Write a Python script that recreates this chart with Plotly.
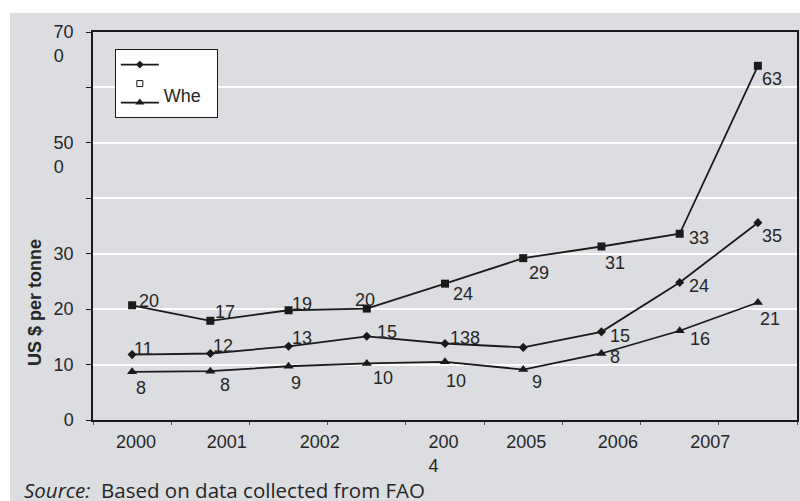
import plotly.graph_objects as go

# Nine yearly observations (index positions on the x axis)
periods = list(range(9))

# Axis tick labels
x_tick_pos = [0.05, 1.21, 2.4, 3.98, 5.04, 6.21, 7.39]
x_tick_text = ["2000", "2001", "2002", "200<br>4\u00a0\u00a0\u00a0\u00a0", "2005", "2006", "2007"]
y_tick_vals = [0, 10, 20, 30, 40, 50, 60, 70]
y_tick_text = ["0", "10", "20", "30", "", "\u00a0<br>50<br>0\u00a0\u00a0", "", "\u00a0<br>70<br>0\u00a0\u00a0"]

# Series values (US $ per tonne) and their printed labels
square_vals = [20.7, 17.9, 19.8, 20.1, 24.6, 29.2, 31.3, 33.6, 63.9]
square_text = ["20", "17", "19", "20", "24", "29", "31", "33", "63"]

diamond_vals = [11.8, 12.0, 13.3, 15.1, 13.8, 13.1, 15.9, 24.8, 35.6]
diamond_text = ["11", "12", "13", "15", "138", "", "15", "24", "35"]

triangle_vals = [8.7, 8.8, 9.7, 10.2, 10.5, 9.1, 12.0, 16.1, 21.2]
triangle_text = ["8", "8", "9", "10", "10", "9", "8", "16", "21"]

legend_names = [" ", " ", "Whe"]

INK = "#1a1a1a"
TXT = "#262626"
BG = "#dcdde0"
FONT = "Arial, Liberation Sans, sans-serif"

# Label offsets from each marker, in pixels (dx right, dy down)
square_off = [(17, -4), (15, -9), (13, -6), (-2, -9), (18, 10),
              (16, 15), (14, 16), (19, 4), (14, 13)]
diamond_off = [(11, -6), (13, -7), (13, -8), (20, -4), (20, -6),
               (0, 0), (19, 4), (19, 3), (14, 13)]
triangle_off = [(9, 16), (15, 14), (7, 17), (16, 15), (11, 19),
                (14, 12), (14, 4), (20, 8), (12, 17)]

fig = go.Figure()
labels = []


def add_series(vals, text, offsets, symbol, size):
    fig.add_trace(go.Scatter(
        x=periods, y=vals, mode="lines+markers",
        line=dict(color=INK, width=1.8),
        marker=dict(symbol=symbol, size=size, color=INK),
        showlegend=False, hoverinfo="skip",
    ))
    for xi, yi, t, (dx, dy) in zip(periods, vals, text, offsets):
        if not t:
            continue
        labels.append(dict(
            x=xi, y=yi, xref="x", yref="y", text=t, showarrow=False,
            xanchor="center", yanchor="middle", xshift=dx, yshift=-dy,
            font=dict(family=FONT, size=18, color=TXT),
        ))


add_series(square_vals, square_text, square_off, "square", 8)
add_series(diamond_vals, diamond_text, diamond_off, "diamond", 7)
add_series(triangle_vals, triangle_text, triangle_off, "triangle-up", 9)

# Legend entries
fig.add_trace(go.Scatter(
    x=[None], y=[None], mode="lines+markers", name=legend_names[0],
    line=dict(color=INK, width=1.8), marker=dict(symbol="diamond", size=6, color=INK)))
fig.add_trace(go.Scatter(
    x=[None], y=[None], mode="markers", name=legend_names[1],
    marker=dict(symbol="square-open", size=6, color=INK, line=dict(width=1))))
fig.add_trace(go.Scatter(
    x=[None], y=[None], mode="lines+markers",
    name="<sup><span style='font-size:18px'>" + legend_names[2] + "\u00a0\u00a0</span></sup>",
    line=dict(color=INK, width=1.8), marker=dict(symbol="triangle-up", size=8, color=INK)))

fig.update_layout(
    width=800, height=501,
    margin=dict(l=93, r=3, t=32, b=81),
    paper_bgcolor="white",
    plot_bgcolor=BG,
    font=dict(family=FONT, size=18, color=TXT),
    showlegend=True,
    legend=dict(
        x=0.031, y=0.956, xanchor="left", yanchor="top",
        bgcolor="white", bordercolor=INK, borderwidth=1,
        font=dict(family=FONT, size=11, color=TXT),
        itemwidth=38, tracegroupgap=0,
    ),
    shapes=[dict(
        type="rect", xref="paper", yref="paper",
        x0=-0.1179, x1=1.02, y0=-0.3, y1=1.049,
        fillcolor=BG, line=dict(width=0), layer="below",
    )],
    annotations=labels + [
        dict(text="<b>US $ per tonne</b>", textangle=-90,
             xref="paper", yref="paper", x=-0.0824, y=0.304,
             xanchor="center", yanchor="middle", showarrow=False,
             font=dict(family=FONT, size=18, color=TXT)),
        dict(text="<i>Source:</i>  Based on data collected from FAO",
             xref="paper", yref="paper", x=-0.1009, y=-0.18,
             xanchor="left", yanchor="middle", showarrow=False,
             font=dict(family="Open Sans, sans-serif", size=20.5, color=TXT)),
    ],
)

fig.update_xaxes(
    range=[-0.5, 8.5], tickmode="array", tickvals=x_tick_pos, ticktext=x_tick_text,
    ticks="", showgrid=False, zeroline=False, ticklabelstandoff=5, automargin=False,
    showline=True, linecolor=INK, linewidth=1.5, mirror=True,
    tickfont=dict(family=FONT, size=18, color=TXT),
    minor=dict(tickmode="array", tickvals=[i - 0.5 for i in range(10)],
               ticks="outside", ticklen=3, tickcolor="#555", showgrid=False),
)
fig.update_yaxes(
    range=[0, 70], tickmode="array", tickvals=y_tick_vals, ticktext=y_tick_text,
    ticks="outside", ticklen=5, tickcolor=INK, ticklabelstandoff=9,
    ticklabeloverflow="allow", automargin=False,
    showgrid=True, gridcolor="white", gridwidth=1.5, zeroline=False,
    showline=True, linecolor=INK, linewidth=1.5, mirror=True,
    tickfont=dict(family=FONT, size=18, color=TXT),
)

fig.write_html("out.html")
